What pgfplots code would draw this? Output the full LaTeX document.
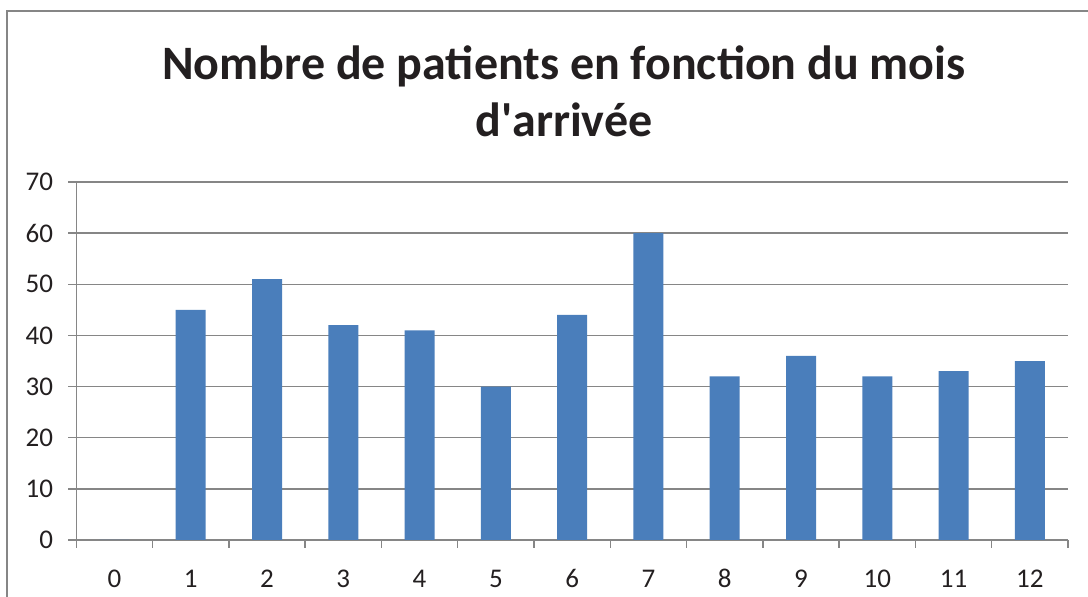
\documentclass[border=0pt]{standalone}
\usepackage{pgfplots}
\pgfplotsset{compat=1.18}
\usepackage{fontspec}
\setmainfont{Carlito}
\definecolor{barblue}{HTML}{4A7EBB}
\definecolor{gridgray}{HTML}{868686}
\definecolor{titlecol}{HTML}{231F20}
\begin{document}
\begin{tikzpicture}[x=1pt,y=1pt]
\useasboundingbox (0,0) rectangle (1088,597);
\draw[gridgray, line width=1.5pt] (7,0) -- (7,586) -- (1088,586);
\node[anchor=base, inner sep=0pt, font=\fontsize{48}{56}\selectfont\bfseries, text=titlecol] at (564,517) {Nombre de patients en fonction du mois};
\node[anchor=base, inner sep=0pt, font=\fontsize{48}{56}\selectfont\bfseries, text=titlecol] at (564,460.3) {d\textquotesingle arrivée};
\begin{axis}[
  at={(76.3pt,57pt)}, anchor=south west,
  scale only axis, width=991.7pt, height=358pt,
  xmin=-0.5, xmax=12.5, ymin=0, ymax=70,
  ytick={0,10,...,70},
  xtick={-0.5,0.5,...,12.5},
  xticklabels={0,1,2,3,4,5,6,7,8,9,10,11,12,{}},
  ymajorgrids,
  grid style={gridgray, line width=1.5pt},
  axis x line=bottom, axis y line=left,
  axis line style={gridgray, line width=1.5pt, -},
  tick style={gridgray, line width=1.5pt},
  tick align=outside, major tick length=8pt,
  /pgf/number format/assume math mode=true,
  tick label style={font=\fontsize{27}{32}\selectfont, text=titlecol},
  yticklabel style={anchor=east, inner sep=0pt, xshift=-15pt, font=\fontsize{27}{32}\selectfont},
  xticklabel style={anchor=base, inner sep=0pt, xshift=38.14pt, yshift=-40pt, font=\fontsize{27}{32}\selectfont},
  clip=false,
]
\addplot[ybar, bar width=30pt, fill=barblue, draw=none] coordinates {
(0,0) (1,45) (2,51) (3,42) (4,41) (5,30) (6,44) (7,60) (8,32) (9,36) (10,32) (11,33) (12,35)};
\end{axis}
\end{tikzpicture}
\end{document}
